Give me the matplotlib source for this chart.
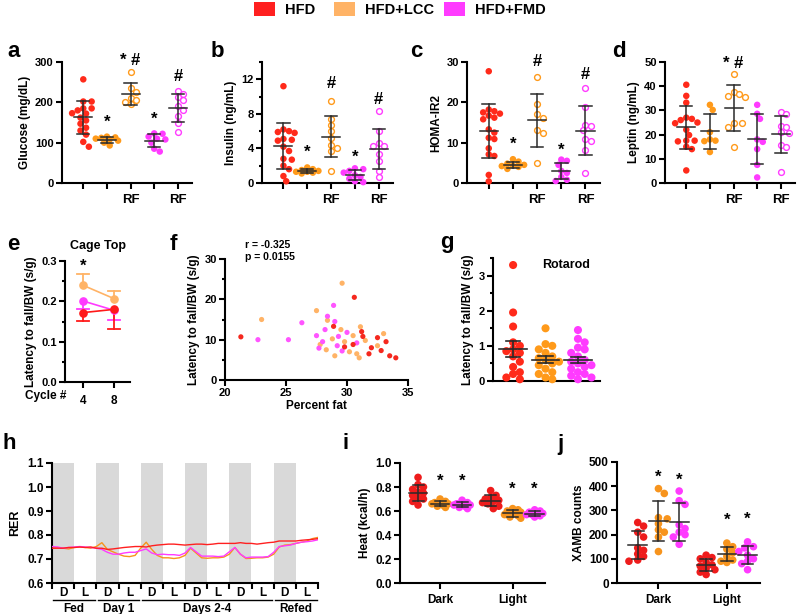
import numpy as np
import matplotlib
matplotlib.use('Agg')
import matplotlib.pyplot as plt
from matplotlib.patches import Rectangle
from matplotlib.ticker import MultipleLocator, FixedLocator, NullFormatter, FormatStrFormatter

plt.rcParams['font.family'] = ['Liberation Sans', 'DejaVu Sans']
plt.rcParams['font.weight'] = 'bold'
plt.rcParams['axes.labelweight'] = 'bold'

# ---------------- data ----------------
groups = ['HFD', 'HFD+LCC', 'HFD+FMD']
rf_labels = ['', '', 'RF', '', 'RF']

glucose_hfd = [257, 202, 202, 185, 185, 180, 172, 173, 162, 155, 147, 137, 130, 120, 102, 90]
glucose_lcc = [115, 113, 112, 110, 108, 105, 100, 93]
glucose_lcc_rf = [275, 235, 225, 210, 205, 200, 195]
glucose_fmd = [123, 122, 115, 110, 108, 100, 85, 78]
glucose_fmd_rf = [228, 220, 212, 205, 190, 180, 165, 150, 127]

insulin_hfd = [11.2, 6.2, 6.0, 5.9, 5.8, 5.1, 5.0, 4.9, 4.2, 3.7, 2.8, 2.7, 2.0, 1.6, 0.8, 0.2]
insulin_lcc = [1.8, 1.6, 1.5, 1.4, 1.3, 1.3, 1.2, 1.1]
insulin_lcc_rf = [9.5, 7.4, 6.7, 6.0, 5.2, 4.4, 4.1, 3.7, 1.4]
insulin_fmd = [1.7, 1.6, 1.4, 1.2, 0.9, 0.7, 0.5, 0.2, 0.1]
insulin_fmd_rf = [8.3, 6.0, 4.6, 4.3, 4.3, 3.3, 2.5, 1.4, 0.7]

homa_hfd = [27.7, 18.2, 17.8, 17.5, 17.2, 16.7, 16.2, 15.8, 13.3, 12.5, 11.2, 10.9, 8.6, 7.1, 6.7, 2.0, 0.4]
homa_lcc = [5.9, 5.3, 4.8, 4.5, 4.3, 4.2, 4.0, 3.5]
homa_lcc_rf = [26.2, 19.5, 17.0, 16.0, 13.1, 12.3, 5.0]
homa_fmd = [5.8, 5.5, 4.5, 3.0, 2.5, 1.5, 0.8, 0.5]
homa_fmd_rf = [23.6, 18.8, 14.5, 14.2, 13.2, 11.0, 10.5, 8.3, 2.6]

leptin_hfd = [40.6, 36.0, 33.2, 27.0, 26.5, 26.0, 25.0, 24.7, 22.0, 19.8, 17.5, 17.2, 17.5, 15.0, 14.0, 5.2]
leptin_lcc = [32.3, 30.2, 21.0, 18.0, 17.5, 17.3, 12.8]
leptin_lcc_rf = [45.0, 37.5, 36.8, 36.0, 35.5, 25.0, 24.7, 23.0, 14.8]
leptin_fmd = [32.3, 28.6, 26.5, 18.0, 17.0, 14.0, 7.5, 2.3]
leptin_fmd_rf = [29.5, 28.6, 23.5, 23.0, 21.0, 20.6, 15.8, 14.8, 4.5]

cycles = [4, 8]
cage_hfd = [0.172, 0.180]
cage_hfd_sem = [0.020, 0.048]
cage_lcc = [0.240, 0.207]
cage_lcc_sem = [0.027, 0.018]
cage_fmd = [0.201, 0.178]
cage_fmd_sem = [0.020, 0.025]

fat_hfd = [30.6, 28.9, 21.3, 31.2, 32.5, 33.2, 30.5, 32.0, 31.8, 33.5, 34.0, 32.8, 29.8, 31.3]
lat_hfd = [20.5, 13.3, 10.7, 12.0, 10.5, 9.5, 8.8, 8.0, 6.5, 6.0, 5.5, 7.3, 8.2, 10.8]
fat_lcc = [29.6, 27.5, 23.0, 28.4, 31.1, 29.5, 30.5, 28.8, 29.8, 31.5, 27.8, 28.3, 30.2, 32.5, 29.0, 31.0, 33.0, 30.8]
lat_lcc = [24.0, 17.2, 15.0, 14.8, 13.2, 12.5, 11.0, 10.2, 9.5, 9.8, 8.8, 7.5, 7.0, 8.5, 6.0, 5.5, 11.5, 6.5]
fat_fmd = [28.9, 26.3, 28.4, 29.0, 22.7, 25.2, 27.5, 28.0, 29.3, 30.0, 29.2, 28.2, 30.8, 27.7, 29.6]
lat_fmd = [18.5, 14.2, 15.8, 14.5, 10.0, 10.0, 11.0, 9.5, 10.8, 11.8, 8.5, 12.5, 9.2, 7.9, 7.2]

rot_hfd = [3.3, 1.95, 1.55, 1.1, 1.0, 0.9, 0.85, 0.8, 0.7, 0.55, 0.4, 0.25, 0.2, 0.1, 0.05]
rot_lcc = [1.5, 1.05, 1.0, 0.9, 0.8, 0.7, 0.65, 0.6, 0.55, 0.5, 0.45, 0.35, 0.25, 0.2, 0.1, 0.05]
rot_fmd = [1.45, 1.2, 1.1, 0.95, 0.9, 0.8, 0.7, 0.6, 0.55, 0.5, 0.45, 0.4, 0.35, 0.25, 0.2, 0.15, 0.1, 0.05]

rer_hours = list(range(0, 145, 3))
rer_hfd = [.745, .745, .745, .748, .748, .750, .748, .750, .745, .745, .740, .742, .745, .748, .750, .752,
           .752, .750, .755, .758, .760, .762, .762, .760, .758, .760, .762, .762, .760, .762, .765, .765,
           .765, .765, .768, .765, .765, .762, .765, .768, .770, .775, .775, .775, .775, .778, .780, .782, .785]
rer_lcc = [.745, .748, .745, .742, .748, .750, .748, .745, .752, .768, .740, .730, .720, .712, .710, .715,
           .745, .770, .740, .715, .705, .705, .702, .705, .715, .745, .725, .705, .703, .705, .705, .708,
           .720, .748, .720, .702, .703, .705, .705, .708, .720, .750, .758, .760, .765, .770, .775, .785, .790]
rer_fmd = [.752, .750, .745, .748, .750, .752, .750, .748, .745, .740, .728, .720, .720, .725, .728, .728,
           .735, .742, .725, .718, .720, .718, .718, .715, .725, .748, .730, .712, .712, .712, .710, .712,
           .730, .748, .720, .705, .708, .708, .708, .710, .728, .752, .755, .758, .765, .770, .772, .775, .780]
period_labels = ['D', 'L'] * 6
phase_names = ['Fed', 'Day 1', 'Days 2-4', 'Refed']
phase_hours = [(0, 24), (24, 48), (48, 120), (120, 144)]

heat_dark_hfd = [0.88, 0.82, 0.80, 0.78, 0.76, 0.75, 0.73, 0.71, 0.70, 0.68, 0.65]
heat_dark_lcc = [0.70, 0.68, 0.67, 0.67, 0.66, 0.66, 0.65, 0.64, 0.63]
heat_dark_fmd = [0.69, 0.67, 0.66, 0.66, 0.65, 0.65, 0.64, 0.63, 0.62]
heat_light_hfd = [0.77, 0.73, 0.71, 0.70, 0.69, 0.68, 0.67, 0.66, 0.64, 0.62]
heat_light_lcc = [0.62, 0.61, 0.60, 0.59, 0.58, 0.57, 0.56, 0.55, 0.54]
heat_light_fmd = [0.61, 0.60, 0.59, 0.58, 0.58, 0.57, 0.57, 0.56, 0.55]

xamb_dark_hfd = [250, 235, 210, 190, 145, 135, 120, 110, 95, 90]
xamb_dark_lcc = [390, 370, 270, 265, 245, 220, 210, 190, 130]
xamb_dark_fmd = [380, 340, 325, 240, 225, 210, 200, 190, 160]
xamb_light_hfd = [115, 105, 100, 85, 75, 70, 60, 55, 45, 35]
xamb_light_lcc = [165, 150, 140, 125, 110, 95, 90, 85]
xamb_light_fmd = [170, 150, 145, 130, 115, 100, 90, 80, 55]

# ---------------- styles ----------------
RED = '#FF2A1A'
ORG = '#FF9A1A'
ORG_L = '#FFB366'
MAG = '#FF3BFF'
RED2 = '#EE1C1C'
ORG2 = '#F7941D'
BAR = '#2a2a2a'

W, H = 798, 614
fig = plt.figure(figsize=(W / 100, H / 100), dpi=100)


def rect(x0, y0, x1, y1):
    return [x0 / W, 1 - y1 / H, (x1 - x0) / W, (y1 - y0) / H]


def style(ax, lw=1.5):
    for s in ['top', 'right']:
        ax.spines[s].set_visible(False)
    for s in ['left', 'bottom']:
        ax.spines[s].set_linewidth(lw)
    ax.tick_params(direction='out', width=lw, length=4, labelsize=8, pad=2)
    ax.tick_params(which='minor', direction='out', width=lw, length=2.5)


def swarm_offsets(ax, vals, d, maxoff):
    bb = ax.get_position()
    x0, x1 = ax.get_xlim()
    y0, y1 = ax.get_ylim()
    xpx = bb.width * W / (x1 - x0)
    ypx = bb.height * H / (y1 - y0)
    vals = np.asarray(vals, float)
    order = np.argsort(-vals, kind='stable')
    placed = []
    offs = np.zeros(len(vals))
    step = d * 0.45
    cands = [0.0]
    k = 1
    while k * step <= maxoff:
        cands += [k * step, -k * step]
        k += 1
    for i in order:
        v = vals[i] * ypx
        best, bestd = 0.0, -1
        for c in cands:
            md = min([np.hypot(c - po, v - pv) for po, pv in placed] or [1e9])
            if md >= d * 0.92:
                best = c
                break
            if md > bestd:
                best, bestd = c, md
        offs[i] = best
        placed.append((best, v))
    return offs / xpx


def dotgroup(ax, x, vals, color, filled=True, d=6.0, s=20, mean_hw=0.38, cap_hw=0.26,
             err='sd', lw=1.1, maxoff=13):
    vals = np.asarray(vals, float)
    off = swarm_offsets(ax, vals, d, maxoff)
    if filled:
        ax.scatter(x + off, vals, s=s, color=color, edgecolors='none', zorder=3, clip_on=False)
    else:
        ax.scatter(x + off, vals, s=s * 0.8, facecolors='white', edgecolors=color,
                   linewidths=1.0, zorder=3, clip_on=False)
    m = vals.mean()
    sd = vals.std(ddof=1)
    e = sd if err == 'sd' else sd / np.sqrt(len(vals))
    ax.plot([x, x], [m - e, m + e], color=BAR, lw=lw, zorder=4)
    ax.plot([x - cap_hw, x + cap_hw], [m - e, m - e], color=BAR, lw=lw, zorder=4)
    ax.plot([x - cap_hw, x + cap_hw], [m + e, m + e], color=BAR, lw=lw, zorder=4)
    ax.plot([x - mean_hw, x + mean_hw], [m, m], color=BAR, lw=lw, zorder=4)


def mark(ax, x, y, s, size=12):
    ax.text(x, y, s, ha='center', va='center', fontsize=size, fontweight='bold', zorder=5)


def panel_label(x, y, s):
    fig.text(x / W, 1 - y / H, s, fontsize=16, fontweight='bold', ha='left', va='baseline')


# ---------------- legend ----------------
leg = [(254, 'HFD', '#FF2020'), (334, 'HFD+LCC', ORG_L), (444, 'HFD+FMD', MAG)]
for x0, name, c in leg:
    fig.patches.append(Rectangle((x0 / W, 1 - 16 / H), 21 / W, 14 / H, transform=fig.transFigure,
                                 facecolor=c, edgecolor='none'))
    fig.text((x0 + 31) / W, 1 - 9.5 / H, name, fontsize=10.5, fontweight='bold', va='center', ha='left')

# ---------------- panels a-d ----------------
top_specs = [
    ('a', 7, 62, 192, 300, 100, None, 'Glucose (mg/dL)',
     [glucose_hfd, glucose_lcc, glucose_lcc_rf, glucose_fmd, glucose_fmd_rf],
     [(2, 150, '*'), (3, 303, '* #'), (4, 159, '*'), (5, 263, '#')]),
    ('b', 211, 262, 393, 14, 4, 2, 'Insulin (ng/mL)',
     [insulin_hfd, insulin_lcc, insulin_lcc_rf, insulin_fmd, insulin_fmd_rf],
     [(2, 3.6, '*'), (3, 11.5, '#'), (4, 3.0, '*'), (5, 9.7, '#')]),
    ('c', 410, 467, 600, 30, 10, None, 'HOMA-IR2',
     [homa_hfd, homa_lcc, homa_lcc_rf, homa_fmd, homa_fmd_rf],
     [(2, 9.6, '*'), (3, 30.0, '#'), (4, 8.2, '*'), (5, 26.8, '#')]),
    ('d', 612, 665, 795, 50, 10, None, 'Leptin (ng/mL)',
     [leptin_hfd, leptin_lcc, leptin_lcc_rf, leptin_fmd, leptin_fmd_rf],
     [(3, 49.5, '* #')]),
]
grp_colors = [RED, ORG, ORG, MAG, MAG]
grp_filled = [True, True, False, True, False]

for lab, lx, x0, x1, ymax, major, minor, ylabel, data, marks in top_specs:
    ax = fig.add_axes(rect(x0, 62, x1, 183))
    style(ax)
    ax.set_ylim(0, ymax)
    ax.set_xlim(0.1, 5.6)
    ax.yaxis.set_major_locator(MultipleLocator(major))
    if minor:
        ax.yaxis.set_minor_locator(MultipleLocator(minor))
    ax.set_xticks([1, 2, 3, 4, 5])
    ax.set_xticklabels(rf_labels, fontsize=9.5, fontweight='bold')
    ax.tick_params(axis='x', pad=4)
    ax.set_ylabel(ylabel, fontsize=8.5, labelpad=3)
    for i, vals in enumerate(data):
        dotgroup(ax, i + 1, vals, grp_colors[i], filled=grp_filled[i], d=6.2, s=22, maxoff=12)
    for gx, gy, s in marks:
        mark(ax, gx, gy, s)
    panel_label(lx, 57, lab)

# ---------------- panel e ----------------
ax = fig.add_axes(rect(65, 261, 130, 382))
style(ax)
ax.set_xlim(1.7, 10.1)
ax.set_ylim(0, 0.3)
ax.yaxis.set_major_locator(MultipleLocator(0.1))
ax.yaxis.set_minor_locator(MultipleLocator(0.05))
ax.yaxis.set_major_formatter(FormatStrFormatter('%.1f'))
ax.set_xticks(cycles)
ax.set_xticklabels([str(c) for c in cycles], fontsize=8.5)
ax.tick_params(axis='x', pad=5)
ax.set_ylabel('Latency to fall/BW (s/g)', fontsize=8.5, labelpad=3)
for vals, err, c, sign in [(cage_lcc, cage_lcc_sem, ORG_L, 1), (cage_fmd, cage_fmd_sem, MAG, -1),
                           (cage_hfd, cage_hfd_sem, '#FF1A1A', -1)]:
    ax.plot(cycles, vals, color=c, lw=1.2, marker='o', ms=5.2, zorder=3, clip_on=False)
    for xc, v, e in zip(cycles, vals, err):
        ye = v + sign * e
        ax.plot([xc, xc], [v, ye], color=c, lw=1.3, zorder=2)
        ax.plot([xc - 0.8, xc + 0.8], [ye, ye], color=c, lw=1.3, zorder=2)
mark(ax, 4, 0.286, '*')
ax.set_title('Cage Top', fontsize=9, fontweight='bold', pad=9)
fig.text(25 / W, 1 - 396 / H, 'Cycle #', fontsize=8.5, fontweight='bold', va='center', ha='left')
panel_label(7, 250, 'e')

# ---------------- panel f ----------------
ax = fig.add_axes(rect(225, 259, 408, 380))
style(ax)
ax.set_xlim(20, 35)
ax.set_ylim(0, 30)
ax.xaxis.set_major_locator(MultipleLocator(5))
ax.yaxis.set_major_locator(MultipleLocator(10))
ax.yaxis.set_minor_locator(MultipleLocator(5))
ax.set_xlabel('Percent fat', fontsize=8.5, labelpad=1)
ax.set_ylabel('Latency to fall/BW (s/g)', fontsize=8.5, labelpad=3)
ax.scatter(fat_lcc, lat_lcc, s=14, color=ORG_L, edgecolors='none', zorder=3)
ax.scatter(fat_fmd, lat_fmd, s=14, color='#FF55FF', edgecolors='none', zorder=3)
ax.scatter(fat_hfd, lat_hfd, s=14, color='#F5281E', edgecolors='none', zorder=3)
fig.text(245 / W, 1 - 251 / H, 'r = -0.325\np = 0.0155', fontsize=7.5, fontweight='bold',
         va='center', ha='left', linespacing=1.3)
panel_label(170, 250, 'f')

# ---------------- panel g ----------------
ax = fig.add_axes(rect(493, 258, 600, 381))
style(ax)
ax.set_xlim(0.38, 3.68)
ax.set_ylim(0, 3.5)
ax.yaxis.set_major_locator(MultipleLocator(1))
ax.yaxis.set_minor_locator(MultipleLocator(0.5))
ax.set_xticks([])
ax.set_ylabel('Latency to fall/BW (s/g)', fontsize=8.5, labelpad=3)
for i, (vals, c) in enumerate([(rot_hfd, RED), (rot_lcc, ORG), (rot_fmd, MAG)]):
    dotgroup(ax, i + 1, vals, c, d=7.5, s=34, mean_hw=0.42, cap_hw=0.22, err='sem', lw=1.2,
             maxoff=14)
ax.text(1.9, 3.3, 'Rotarod', fontsize=9, fontweight='bold', ha='left', va='center')
panel_label(440, 248, 'g')

# ---------------- panel h ----------------
ax = fig.add_axes(rect(52, 463, 318, 583))
style(ax)
ax.set_xlim(0, 144)
ax.set_ylim(0.6, 1.1)
ax.yaxis.set_major_locator(MultipleLocator(0.1))
ax.yaxis.set_major_formatter(FormatStrFormatter('%.1f'))
ax.tick_params(axis='y', labelsize=8.5)
for k in range(6):
    ax.axvspan(24 * k, 24 * k + 12, color='#D9D9D9', lw=0, zorder=0)
ax.plot(rer_hours, rer_lcc, color=ORG2, lw=1.0, zorder=2)
ax.plot(rer_hours, rer_fmd, color=MAG, lw=1.0, zorder=3)
ax.plot(rer_hours, rer_hfd, color='#FF2020', lw=1.0, zorder=4)
ax.xaxis.set_major_locator(FixedLocator(list(range(0, 145, 12))))
ax.xaxis.set_major_formatter(NullFormatter())
ax.xaxis.set_minor_locator(FixedLocator([6 + 12 * k for k in range(12)]))
ax.set_xticklabels(period_labels, minor=True, fontsize=8.5, fontweight='bold')
ax.tick_params(axis='x', which='minor', length=0, pad=3)
ax.set_ylabel('RER', fontsize=9, labelpad=4)
for name, (h0, h1) in zip(phase_names, phase_hours):
    ax.plot([h0 + 0.8, h1 - 0.8], [-0.14, -0.14], transform=ax.get_xaxis_transform(),
            color='black', lw=1.0, clip_on=False)
    ax.text((h0 + h1) / 2, -0.22, name, transform=ax.get_xaxis_transform(), fontsize=8.5,
            fontweight='bold', ha='center', va='center')
panel_label(2, 449, 'h')

# ---------------- panel i ----------------
pos6 = [0, 1, 2, 3.3, 4.3, 5.3]
cols6 = [RED2, ORG2, MAG, RED2, ORG2, MAG]
ax = fig.add_axes(rect(400, 463, 545, 583))
style(ax)
ax.set_xlim(-0.82, 5.77)
ax.set_ylim(0, 1.0)
ax.yaxis.set_major_locator(MultipleLocator(0.2))
ax.yaxis.set_major_formatter(FormatStrFormatter('%.1f'))
ax.set_xticks([1, 4.3])
ax.set_xticklabels(['Dark', 'Light'], fontsize=8.5)
ax.tick_params(axis='x', pad=4)
ax.tick_params(axis='y', labelsize=8.5)
ax.set_ylabel('Heat (kcal/h)', fontsize=8.5, labelpad=3)
for p, vals, c in zip(pos6, [heat_dark_hfd, heat_dark_lcc, heat_dark_fmd,
                             heat_light_hfd, heat_light_lcc, heat_light_fmd], cols6):
    dotgroup(ax, p, vals, c, d=6.0, s=30, mean_hw=0.42, cap_hw=0.25, maxoff=9)
for p, y in [(1, 0.85), (2, 0.85), (4.3, 0.78), (5.3, 0.78)]:
    mark(ax, p, y, '*')
panel_label(342, 449, 'i')

# ---------------- panel j ----------------
ax = fig.add_axes(rect(617, 462, 760, 583))
style(ax)
ax.set_xlim(-1.0, 5.9)
ax.set_ylim(0, 500)
ax.yaxis.set_major_locator(MultipleLocator(100))
ax.set_xticks([1, 4.3])
ax.set_xticklabels(['Dark', 'Light'], fontsize=8.5)
ax.tick_params(axis='x', pad=4)
ax.tick_params(axis='y', labelsize=8.5)
ax.set_ylabel('XAMB counts', fontsize=8.5, labelpad=3)
for p, vals, c in zip(pos6, [xamb_dark_hfd, xamb_dark_lcc, xamb_dark_fmd,
                             xamb_light_hfd, xamb_light_lcc, xamb_light_fmd], cols6):
    dotgroup(ax, p, vals, c, d=6.5, s=30, mean_hw=0.45, cap_hw=0.28, maxoff=10)
for p, y in [(1, 438), (2, 425), (4.3, 258), (5.3, 265)]:
    mark(ax, p, y, '*')
panel_label(557, 450, 'j')

fig.savefig('out.png', dpi=100)
